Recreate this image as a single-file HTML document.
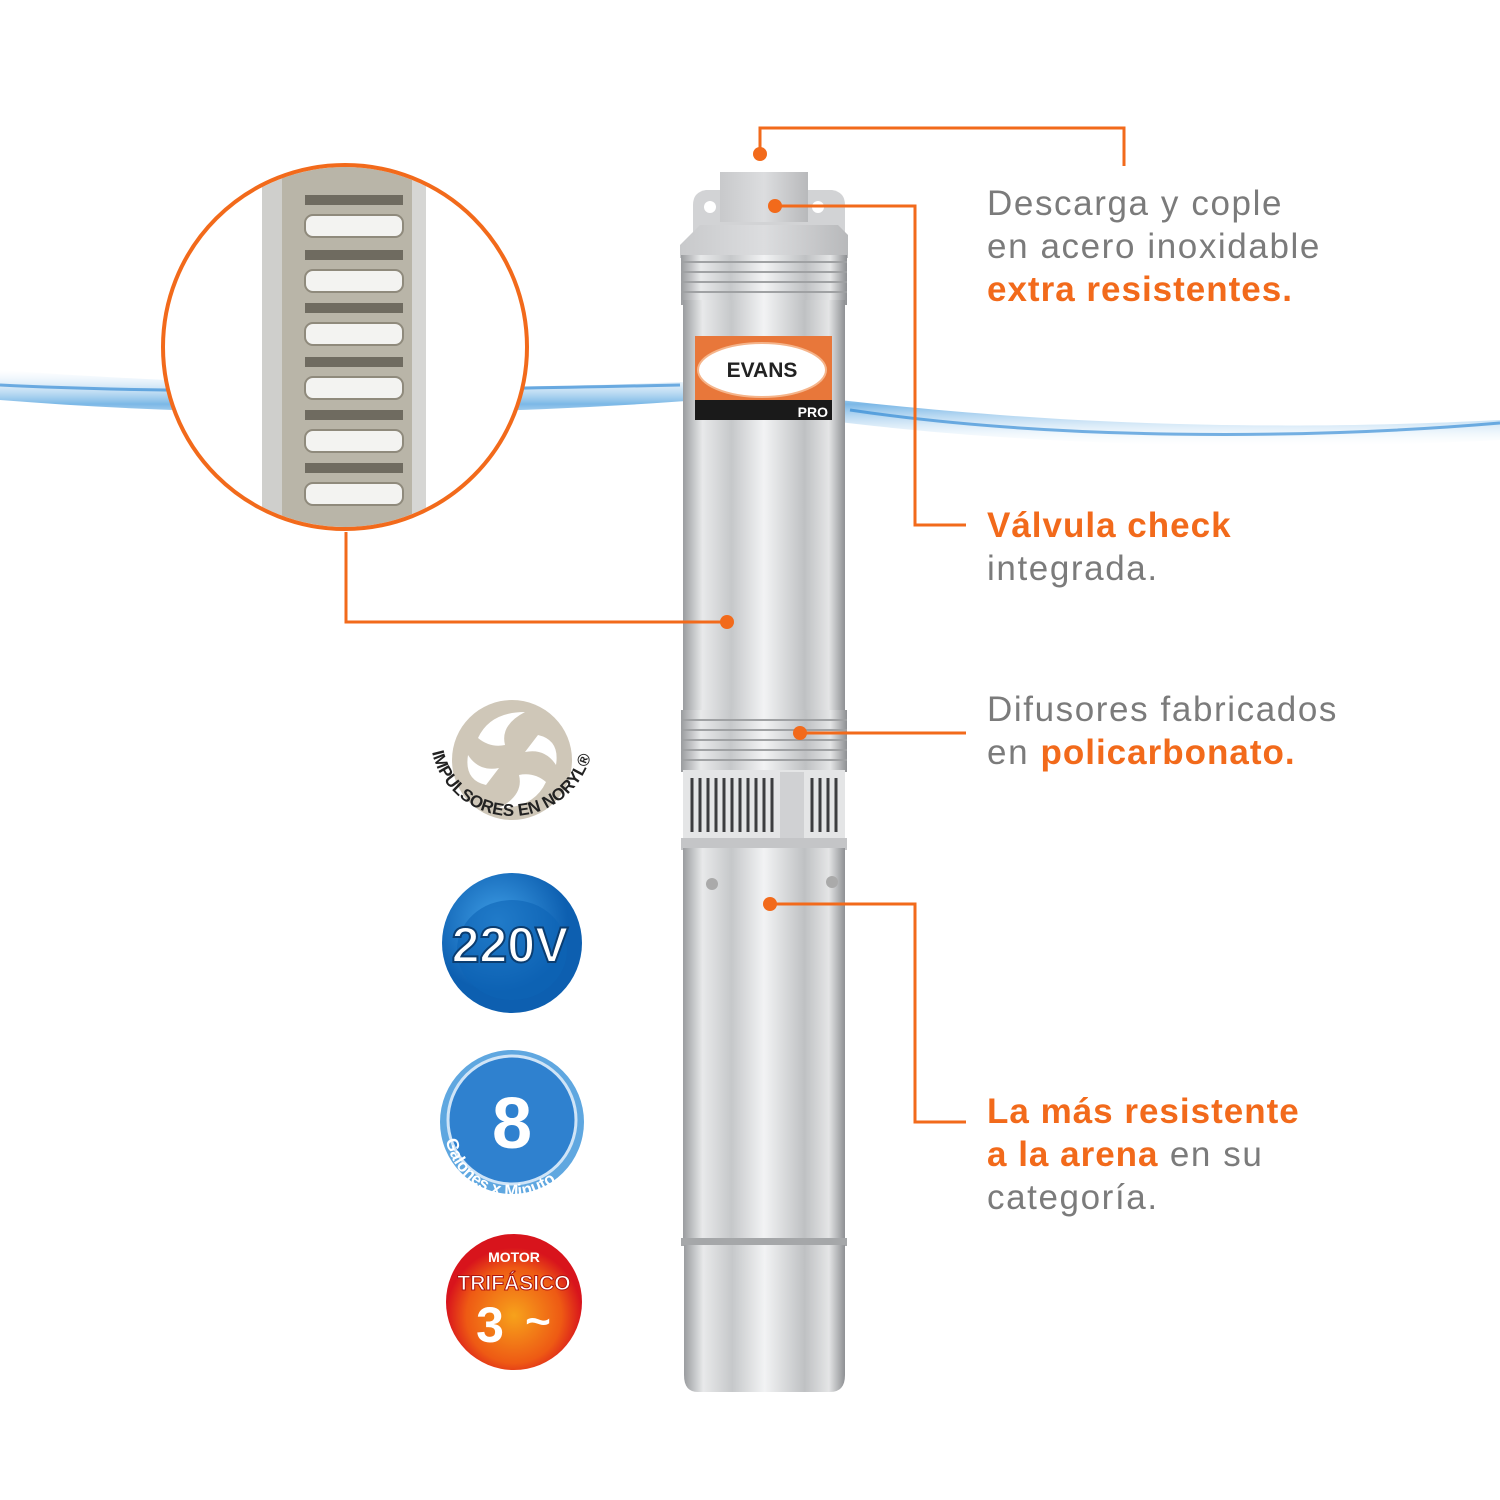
<!DOCTYPE html>
<html><head><meta charset="utf-8"><style>
html,body{margin:0;padding:0;background:#fff}
svg{display:block}
text{font-family:"Liberation Sans",sans-serif}
.g{fill:#7b7b7b;font-size:35px;letter-spacing:1.6px}
.o{fill:#f26a1b;font-weight:bold;letter-spacing:1px}
</style></head><body>
<svg width="1500" height="1500" viewBox="0 0 1500 1500" xmlns="http://www.w3.org/2000/svg">
<defs>
<linearGradient id="steel" x1="0" x2="1" y1="0" y2="0">
<stop offset="0" stop-color="#9a9c9f"/><stop offset="0.12" stop-color="#e8e9ea"/><stop offset="0.3" stop-color="#c6c8ca"/><stop offset="0.5" stop-color="#f2f3f4"/><stop offset="0.75" stop-color="#bfc1c3"/><stop offset="0.9" stop-color="#e4e5e6"/><stop offset="1" stop-color="#8e9093"/>
</linearGradient>
<linearGradient id="cap" x1="0" x2="1"><stop offset="0" stop-color="#c8c9cb"/><stop offset="0.5" stop-color="#dcdddf"/><stop offset="1" stop-color="#b8b9bb"/></linearGradient>
<linearGradient id="water" x1="0" x2="0" y1="0" y2="1"><stop offset="0" stop-color="#cfe6f8" stop-opacity="0"/><stop offset="0.45" stop-color="#5aa6e0"/><stop offset="1" stop-color="#e6f2fb" stop-opacity="0"/></linearGradient>
<radialGradient id="b1" cx="0.4" cy="0.35"><stop offset="0" stop-color="#3f9ee6"/><stop offset="1" stop-color="#0d5fb0"/></radialGradient>
<radialGradient id="b3" cx="0.5" cy="0.6"><stop offset="0" stop-color="#f7a21b"/><stop offset="0.7" stop-color="#ee5a14"/><stop offset="1" stop-color="#d8141c"/></radialGradient>
<clipPath id="cc"><circle cx="345" cy="347" r="180"/></clipPath>
</defs>
<path d="M0 370 C200 385 450 392 680 382 C850 400 1100 440 1500 420 L1500 440 C1200 455 900 440 700 400 C500 415 250 420 0 400Z" fill="url(#water)" opacity="0.8"/>
<path d="M0 385 C200 395 450 390 680 385 M850 410 C1050 440 1300 440 1500 423" stroke="#1f7fd0" stroke-width="3" fill="none" opacity="0.6"/>
<circle cx="345" cy="347" r="182" fill="#fff"/>
<g clip-path="url(#cc)">
<rect x="262" y="160" width="20" height="380" fill="#cfcfcc"/>
<rect x="282" y="160" width="130" height="380" fill="#b9b5a8"/>
<rect x="412" y="160" width="14" height="380" fill="#d6d6d4"/>
<g fill="#f3f3f1" stroke="#8f8a7c" stroke-width="2">
<rect x="305" y="215" width="98" height="22" rx="8"/>
<rect x="305" y="270" width="98" height="22" rx="8"/>
<rect x="305" y="323" width="98" height="22" rx="8"/>
<rect x="305" y="377" width="98" height="22" rx="8"/>
<rect x="305" y="430" width="98" height="22" rx="8"/>
<rect x="305" y="483" width="98" height="22" rx="8"/>
</g>
<g fill="#6f6b60"><rect x="305" y="195" width="98" height="10"/><rect x="305" y="250" width="98" height="10"/><rect x="305" y="303" width="98" height="10"/><rect x="305" y="357" width="98" height="10"/><rect x="305" y="410" width="98" height="10"/><rect x="305" y="463" width="98" height="10"/></g>
</g>
<circle cx="345" cy="347" r="182" fill="none" stroke="#f26a1b" stroke-width="4"/>
<g>
<path d="M693 205 Q693 192 706 190 L832 190 Q845 192 845 205 L845 235 L693 235Z" fill="#d2d3d5"/>
<circle cx="710" cy="207" r="6" fill="#fff"/><circle cx="818" cy="207" r="6" fill="#fff"/>
<rect x="720" y="172" width="88" height="50" fill="url(#cap)"/>
<path d="M690 235 L700 225 L838 225 L848 235 L848 258 L680 258 L680 245Z" fill="url(#cap)"/>
<rect x="681" y="255" width="166" height="50" fill="url(#steel)"/>
<g stroke="#9fa1a3" stroke-width="2"><line x1="681" y1="262" x2="847" y2="262"/><line x1="681" y1="272" x2="847" y2="272"/><line x1="681" y1="282" x2="847" y2="282"/><line x1="681" y1="292" x2="847" y2="292"/></g>
<rect x="683" y="300" width="162" height="412" fill="url(#steel)"/>
<rect x="681" y="710" width="166" height="62" fill="url(#steel)"/>
<g stroke="#9fa1a3" stroke-width="2"><line x1="681" y1="720" x2="847" y2="720"/><line x1="681" y1="730" x2="847" y2="730"/><line x1="681" y1="740" x2="847" y2="740"/><line x1="681" y1="750" x2="847" y2="750"/><line x1="681" y1="760" x2="847" y2="760"/></g>
<rect x="683" y="770" width="162" height="70" fill="#e4e5e6"/>
<g stroke="#3c3d3f" stroke-width="3">
<line x1="692" y1="778" x2="692" y2="832"/><line x1="700" y1="778" x2="700" y2="832"/><line x1="708" y1="778" x2="708" y2="832"/><line x1="716" y1="778" x2="716" y2="832"/><line x1="724" y1="778" x2="724" y2="832"/><line x1="732" y1="778" x2="732" y2="832"/><line x1="740" y1="778" x2="740" y2="832"/><line x1="748" y1="778" x2="748" y2="832"/><line x1="756" y1="778" x2="756" y2="832"/><line x1="764" y1="778" x2="764" y2="832"/><line x1="772" y1="778" x2="772" y2="832"/>
<line x1="812" y1="778" x2="812" y2="832"/><line x1="820" y1="778" x2="820" y2="832"/><line x1="828" y1="778" x2="828" y2="832"/><line x1="836" y1="778" x2="836" y2="832"/>
</g>
<rect x="780" y="772" width="24" height="66" fill="#d0d1d3"/>
<rect x="681" y="838" width="166" height="12" fill="#c4c5c7"/>
<rect x="683" y="848" width="162" height="392" fill="url(#steel)"/>
<circle cx="712" cy="884" r="6" fill="#aaa"/><circle cx="832" cy="882" r="6" fill="#aaa"/>
<rect x="681" y="1238" width="166" height="8" fill="#a5a7a9"/>
<path d="M684 1245 L845 1245 L845 1375 Q845 1392 830 1392 L698 1392 Q684 1392 684 1375Z" fill="url(#steel)"/>
<rect x="695" y="336" width="137" height="84" fill="#e8773a"/>
<rect x="695" y="400" width="137" height="20" fill="#1a1a1a"/>
<ellipse cx="762" cy="370" rx="64" ry="27" fill="#fff" stroke="#f5b48a" stroke-width="2"/>
<text x="762" y="377" text-anchor="middle" font-size="21" font-weight="bold" fill="#222">EVANS</text>
<text x="828" y="417" text-anchor="end" font-size="14" font-weight="bold" fill="#fff">PRO</text>
</g>
<g stroke="#f26a1b" stroke-width="3" fill="none">
<polyline points="760,154 760,128 1124,128 1124,166"/>
<polyline points="775,206 915,206 915,525 966,525"/>
<polyline points="727,622 346,622 346,532"/>
<polyline points="800,733 966,733"/>
<polyline points="770,904 915,904 915,1122 966,1122"/>
</g>
<g fill="#f26a1b"><circle cx="760" cy="154" r="7"/><circle cx="775" cy="206" r="7"/><circle cx="727" cy="622" r="7"/><circle cx="800" cy="733" r="7"/><circle cx="770" cy="904" r="7"/></g>
<text class="g" x="987" y="215">Descarga y cople</text>
<text class="g" x="987" y="258">en acero inoxidable</text>
<text class="g o" x="987" y="301">extra resistentes.</text>
<text class="g o" x="987" y="537">Válvula check</text>
<text class="g" x="987" y="580">integrada.</text>
<text class="g" x="987" y="721">Difusores fabricados</text>
<text class="g" x="987" y="764">en <tspan class="o">policarbonato.</tspan></text>
<text class="g o" x="987" y="1123">La más resistente</text>
<text class="g" x="987" y="1166"><tspan class="o">a la arena</tspan> en su</text>
<text class="g" x="987" y="1209">categoría.</text>
<circle cx="512" cy="760" r="60" fill="#cfc7b8"/>
<path d="M478 738 Q490 712 525 712 Q500 725 505 745 Q490 748 478 738Z M546 782 Q534 808 499 808 Q524 795 519 775 Q534 772 546 782Z M538 735 Q560 740 556 765 Q545 748 525 752Z M486 785 Q464 780 468 755 Q479 772 499 768Z" fill="#fff"/>
<path id="arc1" d="M432 752 A82 82 0 0 0 592 752" fill="none"/>
<text font-size="17" font-weight="bold" fill="#222"><textPath href="#arc1">IMPULSORES EN NORYL®</textPath></text>
<circle cx="512" cy="943" r="70" fill="url(#b1)"/>
<ellipse cx="512" cy="950" rx="55" ry="50" fill="#0e64b6" opacity="0.6"/>
<text x="510" y="962" text-anchor="middle" font-size="50" font-weight="bold" fill="#fff" stroke="#0b3d70" stroke-width="2">220V</text>
<circle cx="512" cy="1122" r="72" fill="#5fa7e0"/>
<circle cx="512" cy="1120" r="64" fill="#2f81cf" stroke="#cfe4f7" stroke-width="3"/>
<text x="512" y="1148" text-anchor="middle" font-size="72" font-weight="bold" fill="#fff">8</text>
<path id="arc2" d="M446 1140 A68 68 0 0 0 580 1140" fill="none"/>
<text font-size="17" font-weight="bold" fill="#fff"><textPath href="#arc2">Galones x Minuto</textPath></text>
<circle cx="514" cy="1302" r="68" fill="url(#b3)"/>
<text x="514" y="1262" text-anchor="middle" font-size="14" font-weight="bold" fill="#fff">MOTOR</text>
<text x="514" y="1290" text-anchor="middle" font-size="21" font-weight="bold" fill="#fff" stroke="#b0150f" stroke-width="1">TRIFÁSICO</text>
<text x="490" y="1342" text-anchor="middle" font-size="50" font-weight="bold" fill="#fff">3</text>
<text x="538" y="1336" text-anchor="middle" font-size="44" font-weight="bold" fill="#fff">~</text>
</svg>
</body></html>
